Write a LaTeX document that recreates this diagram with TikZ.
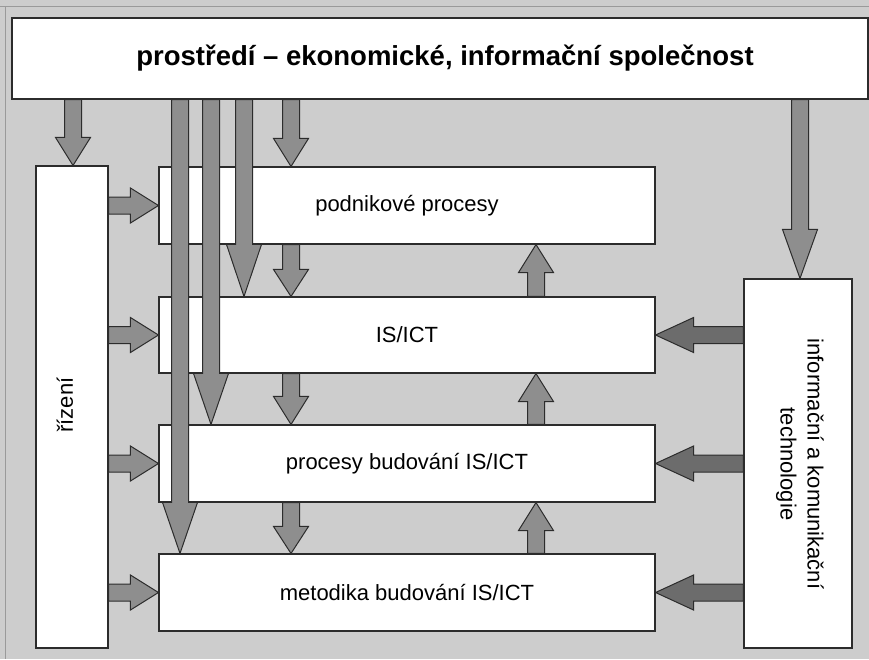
\documentclass[tikz,border=0pt]{standalone}
\usepackage{fontspec}
\setmainfont{Liberation Sans}
\usetikzlibrary{calc}

\definecolor{bgc}{HTML}{CDCDCD}
\definecolor{framec}{HTML}{9A9A9A}
\definecolor{edgec}{HTML}{2C2C2C}
\definecolor{arrowc}{HTML}{8E8E8E}
\definecolor{arrowdark}{HTML}{6C6C6C}

\tikzset{
  box/.style={draw=edgec, line width=1.1pt, fill=white, inner sep=0pt,
              font=\fontsize{22}{27}\selectfont},
  barrow/.style={draw=edgec, line width=1pt, fill=arrowc, line join=miter},
  darkarrow/.style={fill=arrowdark},
}

% Block arrow from #2 to #3 with head length #4 (pt)
\newcommand\blockarrow[4][]{%
  \path (#2) coordinate (ab-s) (#3) coordinate (ab-t);
  \path ($(ab-t)!#4pt!(ab-s)$) coordinate (ab-h);
  \draw[barrow,#1] ($(ab-s)!8.5pt!90:(ab-t)$)
    -- ($(ab-h)!8.5pt!90:(ab-t)$)
    -- ($(ab-h)!17.5pt!90:(ab-t)$)
    -- (ab-t)
    -- ($(ab-h)!17.5pt!-90:(ab-t)$)
    -- ($(ab-h)!8.5pt!-90:(ab-t)$)
    -- ($(ab-s)!8.5pt!-90:(ab-t)$) -- cycle;}

\begin{document}
\begin{tikzpicture}[x=1pt,y=-1pt]
  \useasboundingbox (0,0) rectangle (869,659);
  \fill[bgc] (0,0) rectangle (869,659);
  \draw[framec, line width=0.8pt] (0,6) -- (869,6);
  \draw[framec, line width=0.8pt] (5,6) -- (5,659);

  % boxes
  \node[box, minimum width=856pt, minimum height=81pt] (top) at (440,58.5) {};
  \node[font=\fontsize{27.5}{32}\selectfont\bfseries] (toptext) at (445,58) {prostředí – ekonomické, informační společnost};
  \node[box, minimum width=72pt, minimum height=482pt] (riz) at (72,407) {};
  \node[rotate=90, font=\fontsize{22}{27}\selectfont] (riztext) at (65,405) {řízení};
  \node[box, minimum width=108pt, minimum height=369pt] (ict) at (798,463.5) {};
  \node[rotate=-90, align=center, font=\fontsize{22}{27}\selectfont] (icttext) at (800,464) {informační a komunikační\\technologie};

  \node[box, minimum width=496pt, minimum height=77pt] (podnik) at (407,205.5) {podnikové procesy};
  \node[box, minimum width=496pt, minimum height=76pt] (isict) at (407,335) {IS/ICT};
  \node[box, minimum width=496pt, minimum height=77pt] (procb) at (407,463.5) {procesy budování IS/ICT};
  \node[box, minimum width=496pt, minimum height=77pt] (metod) at (407,592.5) {metodika budování IS/ICT};

  % arrow columns
  \coordinate (c73) at (73,0);
  \coordinate (c180) at (180,0);
  \coordinate (c211) at (211,0);
  \coordinate (c244) at (244,0);
  \coordinate (c291) at (291,0);
  \coordinate (c536) at (536,0);
  \coordinate (c800) at (800,0);

  % from the environment
  \blockarrow{top.south -| c73}{riz.north -| c73}{28}
  \blockarrow{top.south -| c291}{podnik.north -| c291}{28}
  \blockarrow{top.south -| c800}{ict.north -| c800}{49}
  \blockarrow{top.south -| c244}{isict.north -| c244}{52}
  \blockarrow{top.south -| c211}{procb.north -| c211}{51}
  \blockarrow{top.south -| c180}{metod.north -| c180}{51}

  % downward chain
  \blockarrow{podnik.south -| c291}{isict.north -| c291}{27}
  \blockarrow{isict.south -| c291}{procb.north -| c291}{28}
  \blockarrow{procb.south -| c291}{metod.north -| c291}{27}

  % upward chain
  \blockarrow{isict.north -| c536}{podnik.south -| c536}{28}
  \blockarrow{procb.north -| c536}{isict.south -| c536}{28}
  \blockarrow{metod.north -| c536}{procb.south -| c536}{28}

  % management
  \foreach \b in {podnik,isict,procb,metod}
    \blockarrow{riz.east |- \b.west}{\b.west}{28};

  % information and communication technologies
  \foreach \b in {isict,procb,metod}
    \blockarrow[darkarrow]{ict.west |- \b.east}{\b.east}{38};
\end{tikzpicture}
\end{document}
